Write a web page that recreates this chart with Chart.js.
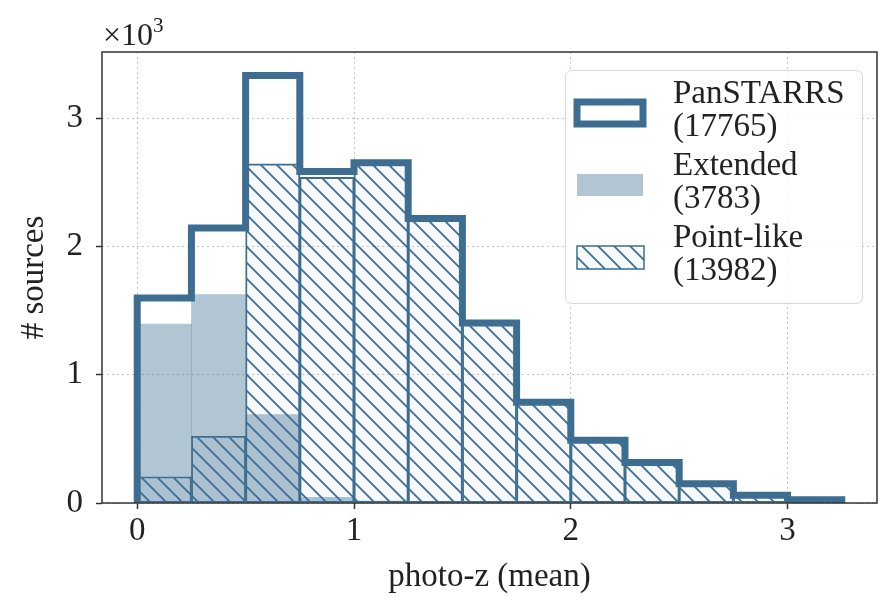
<!DOCTYPE html>
<html>
<head>
<meta charset="utf-8">
<script src="https://cdn.jsdelivr.net/npm/chart.js@4.4.0/dist/chart.umd.min.js"></script>
<style>
  body { margin: 0; background: #fff; }
  #wrap { width: 880px; height: 597px; }
</style>
</head>
<body>
<div id="wrap"><canvas id="histChart" width="880" height="597"></canvas></div>
<script>
// histogram bins (photo-z, width 0.25)
const binEdges = [0, 0.25, 0.5, 0.75, 1, 1.25, 1.5, 1.75, 2, 2.25, 2.5, 2.75, 3, 3.25];
const binCenters = [0.125, 0.375, 0.625, 0.875, 1.125, 1.375, 1.625, 1.875, 2.125, 2.375, 2.625, 2.875, 3.125];

// counts per bin
const panstarrs = [1600, 2145, 3335, 2585, 2655, 2220, 1405, 785, 490, 315, 150, 60, 25];
const extended  = [1395, 1625, 690, 45, 15, 5, 3, 2, 1, 1, 1, 0, 0];
const pointlike = [205, 520, 2645, 2540, 2640, 2215, 1402, 783, 489, 314, 149, 60, 25];

const xTicks = [0, 1, 2, 3];
const yTicks = [0, 1000, 2000, 3000];

const legendNames = ['PanSTARRS', 'Extended', 'Point-like'];
const legendCounts = ['(17765)', '(3783)', '(13982)'];

const edgeBlue = '#3d6e92';
const fillBlue = 'rgba(61,110,146,0.4)';
const txtColor = '#222';
const serif = '"Liberation Serif", "Times New Roman", serif';

function makeHatch(s, color, lw, bg) {
  const c = document.createElement('canvas');
  c.width = s; c.height = s;
  const g = c.getContext('2d');
  if (bg) { g.fillStyle = bg; g.fillRect(0, 0, s, s); }
  g.strokeStyle = color;
  g.lineWidth = lw;
  g.beginPath();
  g.moveTo(-2, -2); g.lineTo(s + 2, s + 2);
  g.moveTo(-2, s - 2); g.lineTo(2, s + 2);
  g.moveTo(s - 2, -2); g.lineTo(s + 2, 2);
  g.stroke();
  return g.createPattern(c, 'repeat');
}

const ctx = document.getElementById('histChart').getContext('2d');
const hatch = makeHatch(16, edgeBlue, 1.8, 'rgba(61,110,146,0.04)');

// outline of the step histogram
const stepPts = [{x: binEdges[0], y: 0}];
panstarrs.forEach((v, i) => stepPts.push({x: binEdges[i], y: v}));
stepPts.push({x: binEdges[binEdges.length - 1], y: panstarrs[panstarrs.length - 1]});
stepPts.push({x: binEdges[binEdges.length - 1], y: 0});

const framePlugin = {
  id: 'frame',
  afterDraw(chart) {
    const c = chart.ctx;
    const a = chart.chartArea;
    c.save();
    c.strokeStyle = '#333';
    c.lineWidth = 1.5;
    c.strokeRect(a.left, a.top, a.right - a.left, a.bottom - a.top);

    // offset text
    c.fillStyle = txtColor;
    c.textBaseline = 'alphabetic';
    c.font = '32px ' + serif;
    c.fillText('×10', a.left + 1, 45);
    const w = c.measureText('×10').width;
    c.font = '21px ' + serif;
    c.fillText('3', a.left + 1 + w, 32);

    // legend
    c.beginPath();
    c.roundRect(565.5, 70.5, 297, 233, 6);
    c.fillStyle = 'rgba(255,255,255,0.85)';
    c.fill();
    c.strokeStyle = '#d6d6d6';
    c.lineWidth = 1;
    c.stroke();

    c.font = '33px ' + serif;
    legendNames.forEach((name, i) => {
      const base = 103 + 72 * i;
      const top = base - 1;
      if (i === 0) {
        c.fillStyle = '#fff';
        c.fillRect(577, top, 66, 22);
        c.strokeStyle = edgeBlue;
        c.lineWidth = 7;
        c.strokeRect(577, top, 66, 22);
      } else if (i === 1) {
        c.fillStyle = fillBlue;
        c.fillRect(577, top, 66, 22);
      } else {
        c.fillStyle = hatch;
        c.fillRect(577, top, 67, 23);
        c.strokeStyle = edgeBlue;
        c.lineWidth = 1.5;
        c.strokeRect(577, top, 67, 23);
      }
      c.fillStyle = txtColor;
      c.fillText(name, 673, base);
      c.fillText(legendCounts[i], 673, base + 33);
    });
    c.restore();
  }
};

const font = {family: serif, size: 33};

new Chart(ctx, {
  type: 'bar',
  data: {
    datasets: [
      {
        type: 'line',
        label: 'PanSTARRS',
        data: stepPts,
        borderColor: edgeBlue,
        borderWidth: 7,
        stepped: 'before',
        pointRadius: 0,
        fill: false,
        borderJoinStyle: 'miter',
        borderCapStyle: 'butt',
        order: 0
      },
      {
        label: 'Point-like',
        data: binCenters.map((x, i) => ({x: x, y: pointlike[i]})),
        backgroundColor: hatch,
        borderColor: edgeBlue,
        borderWidth: 1.2,
        borderSkipped: false,
        grouped: false,
        barPercentage: 1,
        categoryPercentage: 1,
        order: 1
      },
      {
        label: 'Extended',
        data: binCenters.map((x, i) => ({x: x, y: extended[i]})),
        backgroundColor: fillBlue,
        borderWidth: 0,
        grouped: false,
        barPercentage: 1,
        categoryPercentage: 1,
        order: 2
      }
    ]
  },
  options: {
    responsive: false,
    animation: false,
    layout: {padding: {top: 52, right: 3, left: 0, bottom: 0}},
    plugins: {legend: {display: false}, tooltip: {enabled: false}},
    scales: {
      x: {
        type: 'linear',
        min: -0.1625,
        max: 3.4125,
        offset: false,
        afterBuildTicks: s => { s.ticks = xTicks.map(v => ({value: v})); },
        afterFit: s => { s.height = 94; },
        grid: {offset: false, color: '#c4c4c4', lineWidth: 1,
               tickColor: '#333', tickLength: 6, tickWidth: 1.5, tickBorderDash: []},
        border: {display: false, dash: [2, 3]},
        ticks: {font: font, color: txtColor, padding: 3, maxRotation: 0},
        title: {display: true, text: 'photo-z (mean)', font: font, color: txtColor, padding: {top: 0, bottom: 0}}
      },
      y: {
        min: 0,
        max: 3518,
        afterBuildTicks: s => { s.ticks = yTicks.map(v => ({value: v})); },
        afterFit: s => { s.width = 102; },
        grid: {color: '#c4c4c4', lineWidth: 1,
               tickColor: '#333', tickLength: 6, tickWidth: 1.5, tickBorderDash: []},
        border: {display: false, dash: [2, 3]},
        ticks: {font: font, color: txtColor, padding: 13, callback: v => v / 1000},
        title: {display: true, text: '# sources', font: font, color: txtColor, padding: {top: 15, bottom: 0}}
      }
    }
  },
  plugins: [framePlugin]
});
</script>
</body>
</html>
